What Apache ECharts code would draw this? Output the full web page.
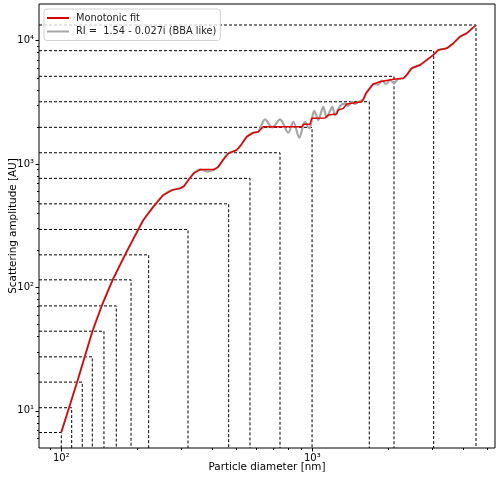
<!DOCTYPE html>
<html>
<head>
<meta charset="utf-8">
<script src="https://cdn.jsdelivr.net/npm/echarts@6/dist/echarts.min.js"></script>
<style>
html, body { margin: 0; padding: 0; background: #fff; }
#chart { width: 500px; height: 479px; }
</style>
</head>
<body>
<div id="chart"></div>
<script>
// monotonic fit (red)
const fitDiameter = [100, 116.2, 133.1, 144.9, 160.2, 179.4, 202.7, 212.2, 232.6, 254.9, 276.1, 297.2, 308.3, 320.6, 337.9, 356.9, 405.9, 422.2, 440.8, 462.8, 499.7, 519.8, 547.8, 582.0, 609.4, 638.0, 907.4, 920.8, 979.1, 994.5, 1123, 1158, 1251, 1269, 1329, 1371, 1573, 1597, 1637, 1698, 1750, 1861, 2102, 2304, 2377, 2489, 2686, 2857, 3034, 3177, 3432, 3646, 3876, 4122, 4489];
const fitAmplitude = [6.71, 17.71, 44.2, 70.9, 115.3, 183.8, 295.4, 351.4, 450.5, 560.6, 615.2, 635.4, 663, 741.8, 845.3, 902.5, 902.5, 950.7, 1078, 1221, 1299, 1426, 1665, 1794, 1828, 2007, 2007, 2099, 2099, 2348, 2361, 2497, 2544, 2741, 2829, 3067, 3201, 3347, 3745, 4135, 4455, 4650, 4863, 4955, 5269, 5973, 6353, 6974, 7656, 8408, 8679, 9526, 10777, 11482, 13407];

// Mie curve, RI = 1.54 - 0.027i (grey)
const riDiameter = [100, 116.2, 133.1, 144.9, 160.2, 179.4, 202.7, 212.2, 232.6, 254.9, 276.1, 297.2, 308.3, 320.6, 337.9, 356.9, 382.4, 405.9, 422.2, 440.8, 462.8, 499.7, 519.8, 547.8, 582.0, 609.4, 648.1, 692.8, 743.6, 802.5, 840.2, 887.6, 935.2, 972.8, 1018, 1057, 1106, 1141, 1202, 1231, 1290, 1350, 1388, 1436, 1479, 1526, 1597, 1637, 1698, 1750, 1827, 1895, 1966, 2040, 2116, 2194, 2304, 2377, 2489, 2686, 2857, 3034, 3177, 3432, 3646, 3876, 4122, 4489];
const riAmplitude = [6.71, 17.71, 44.2, 70.9, 115.3, 183.8, 295.4, 351.4, 450.5, 560.6, 615.2, 635.4, 663, 741.8, 845.3, 902.5, 869.5, 902.5, 950.7, 1078, 1221, 1299, 1426, 1665, 1794, 1828, 2304, 1985, 2304, 1794, 2203, 1634, 2203, 1948, 2705, 2275, 2915, 2393, 2915, 2497, 2954, 3107, 2954, 3201, 3067, 3201, 3347, 3745, 4135, 4455, 4414, 4755, 4455, 4800, 4539, 4892, 4955, 5269, 5973, 6353, 6974, 7656, 8408, 8679, 9526, 10777, 11482, 13407];

// bin corners (dashed guides)
const binDiameter = [100, 110, 121.2, 132.9, 147.9, 165.6, 189.6, 222.9, 319.8, 464.4, 564.6, 743.7, 998, 1687, 2116, 3045, 4490];
const binAmplitude = [6.67, 10.6, 17.1, 27.4, 44.2, 70.9, 115.3, 183.8, 295, 476, 766, 1235, 1985, 3200, 5143, 8300, 13400];

const xTicks = [100, 1000];
const yTicks = [10, 100, 1000, 10000];
const xMinorTicks = [90, 200, 300, 400, 500, 600, 700, 800, 900, 2000, 3000, 4000, 5000];
const yMinorTicks = [6, 7, 8, 9, 20, 30, 40, 50, 60, 70, 80, 90, 200, 300, 400, 500, 600, 700, 800, 900, 2000, 3000, 4000, 5000, 6000, 7000, 8000, 9000];

const X_MIN = 81.5, X_MAX = 5345;
const Y_MIN = 5.0, Y_MAX = 19830;

const sup = { 1: '\u00b9', 2: '\u00b2', 3: '\u00b3', 4: '\u2074' };
const powLabel = v => '10' + sup[Math.round(Math.log10(v))];
const FONT = 'DejaVu Sans';

const chart = echarts.init(document.getElementById('chart'));

const zip = (a, b) => a.map((v, i) => [v, b[i]]);

const guideSeries = binDiameter.map((d, i) => ({
    type: 'line',
    silent: true,
    symbol: 'none',
    z: 1,
    lineStyle: { color: '#000', width: 1, type: [3, 2] },
    data: [[X_MIN, binAmplitude[i]], [d, binAmplitude[i]], [d, Y_MIN]]
}));

chart.setOption({
    animation: false,
    textStyle: { fontFamily: FONT },
    grid: { left: 39, right: 5, top: 4, bottom: 31, show: true, borderColor: '#000', borderWidth: 1, containLabel: false, outerBoundsMode: 'none' },
    legend: {
        left: 44, top: 9,
        orient: 'vertical',
        padding: [4, 4, 4, 3],
        itemGap: 3.5,
        itemWidth: 22, itemHeight: 2,
        icon: 'rect',
        backgroundColor: 'rgba(255,255,255,0.8)',
        borderColor: '#d0d0d0', borderWidth: 1, borderRadius: 3,
        textStyle: { fontFamily: FONT, fontSize: 9.8, color: '#222', padding: [0, 0, 0, 2] },
        data: ['Monotonic fit', 'RI =  1.54 - 0.027i (BBA like)']
    },
    xAxis: [{
        type: 'log', min: X_MIN, max: X_MAX,
        name: 'Particle diameter [nm]', nameLocation: 'middle', nameGap: 14, nameMoveOverlap: false,
        nameTextStyle: { fontFamily: FONT, fontSize: 10.4, color: '#000', verticalAlign: 'top' },
        axisLine: { show: false },
        axisTick: { show: true, customValues: xTicks, length: 3.5, lineStyle: { color: '#000' } },
        axisLabel: { customValues: xTicks, formatter: powLabel, fontFamily: FONT, fontSize: 10, color: '#000', margin: 5 },
        splitLine: { show: false }
    }, {
        type: 'log', min: X_MIN, max: X_MAX, position: 'bottom',
        axisLine: { show: false },
        axisTick: { show: true, customValues: xMinorTicks, length: 2, lineStyle: { color: '#000' } },
        axisLabel: { show: false },
        splitLine: { show: false }
    }],
    yAxis: [{
        type: 'log', min: Y_MIN, max: Y_MAX,
        name: 'Scattering amplitude [AU]', nameLocation: 'middle', nameGap: 21, nameMoveOverlap: false,
        nameTextStyle: { fontFamily: FONT, fontSize: 10.4, color: '#000', verticalAlign: 'bottom' },
        axisLine: { show: false },
        axisTick: { show: true, customValues: yTicks, length: 3.5, lineStyle: { color: '#000' } },
        axisLabel: { customValues: yTicks, formatter: powLabel, fontFamily: FONT, fontSize: 10, color: '#000', margin: 5 },
        splitLine: { show: false }
    }, {
        type: 'log', min: Y_MIN, max: Y_MAX, position: 'left',
        axisLine: { show: false },
        axisTick: { show: true, customValues: yMinorTicks, length: 2, lineStyle: { color: '#000' } },
        axisLabel: { show: false },
        splitLine: { show: false }
    }],
    series: guideSeries.concat([{
        name: 'RI =  1.54 - 0.027i (BBA like)',
        type: 'line',
        symbol: 'none',
        smooth: 0.3,
        z: 3,
        itemStyle: { color: '#a6a6a6' },
        lineStyle: { color: '#a6a6a6', width: 2.2 },
        data: zip(riDiameter, riAmplitude)
    }, {
        name: 'Monotonic fit',
        type: 'line',
        symbol: 'none',
        z: 4,
        itemStyle: { color: '#e00000' },
        lineStyle: { color: '#e00000', width: 1.5 },
        data: zip(fitDiameter, fitAmplitude)
    }])
});
</script>
</body>
</html>
